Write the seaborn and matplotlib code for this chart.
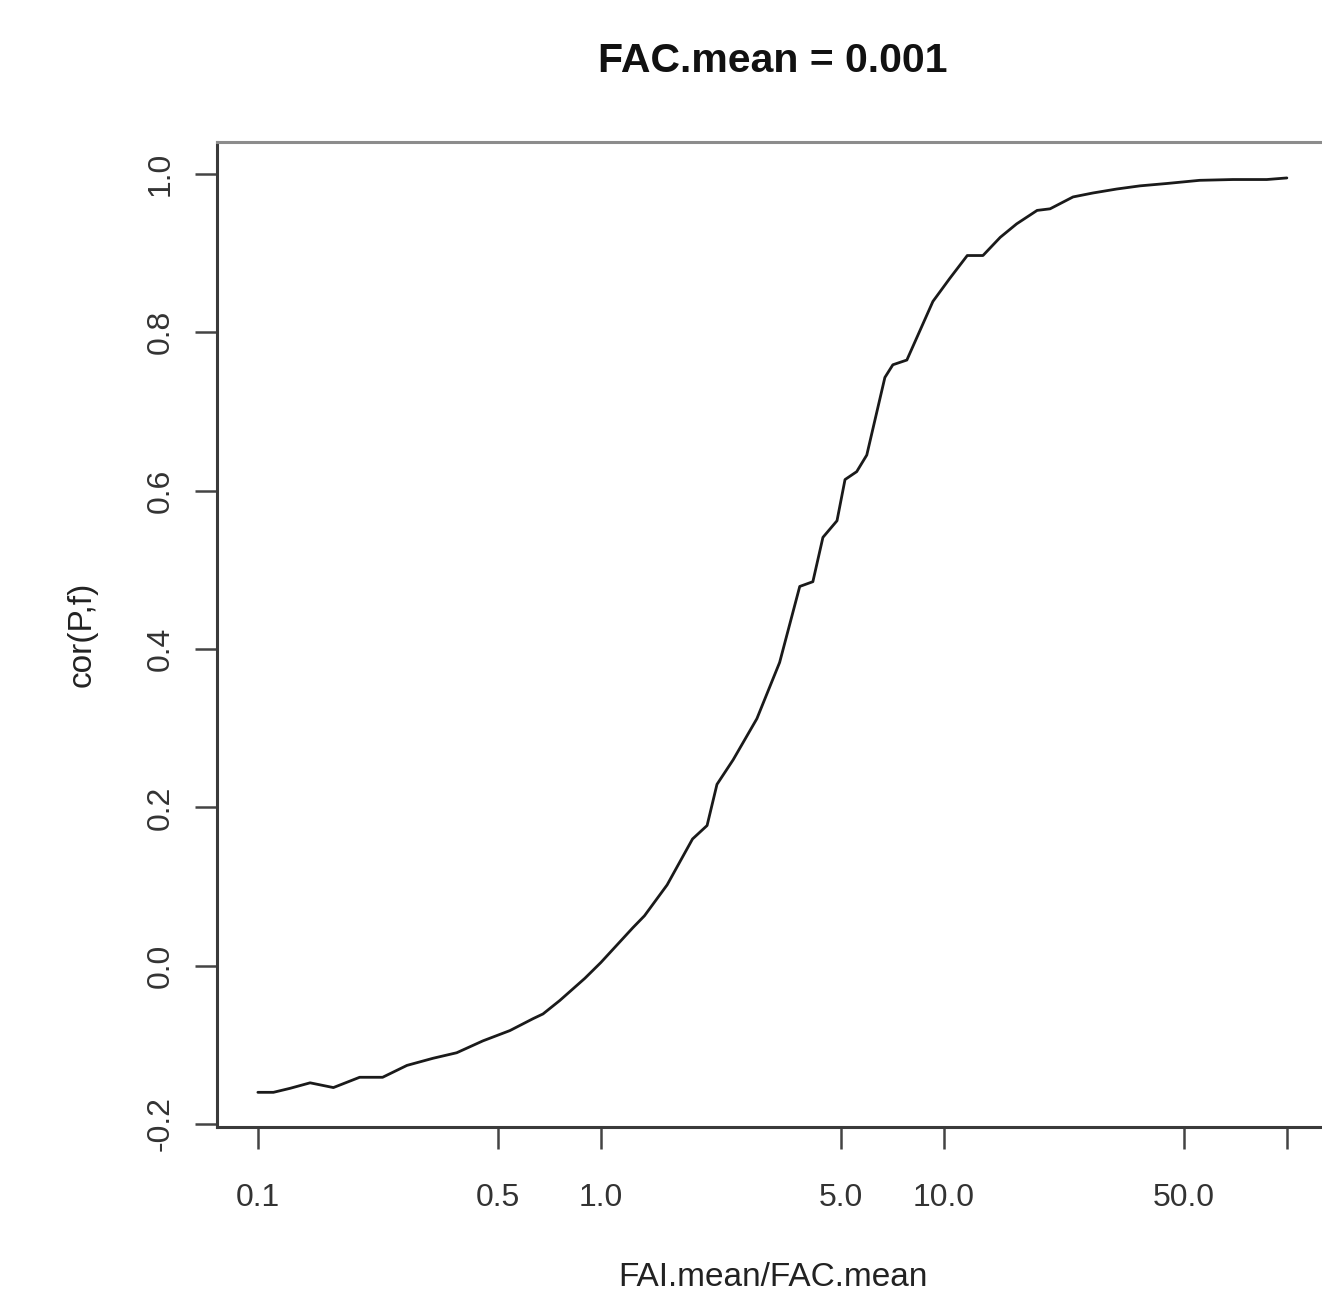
import numpy as np
import pandas as pd
import matplotlib
matplotlib.use("Agg")
import matplotlib.pyplot as plt
import seaborn as sns

# FAI.mean / FAC.mean ratio and the resulting correlation cor(P, f)
ratio = [0.1, 0.111, 0.124, 0.142, 0.166, 0.198, 0.231, 0.272, 0.324, 0.380,
         0.453, 0.543, 0.634, 0.678, 0.759, 0.898, 1.0, 1.24, 1.34, 1.56,
         1.85, 2.04, 2.18, 2.43, 2.85, 3.32, 3.80, 4.15, 4.44, 4.88,
         5.15, 5.57, 5.96, 6.73, 7.10, 7.80, 9.29, 10.4, 11.7, 13.0,
         14.6, 16.3, 18.7, 20.4, 23.8, 27.2, 31.9, 37.3, 44.7, 55.7,
         69.6, 87.4, 100.0]
corr = [-0.160, -0.160, -0.155, -0.148, -0.154, -0.141, -0.141, -0.126, -0.117, -0.110,
        -0.095, -0.082, -0.067, -0.061, -0.044, -0.016, 0.004, 0.048, 0.063, 0.102,
        0.160, 0.177, 0.229, 0.260, 0.312, 0.383, 0.479, 0.485, 0.541, 0.562,
        0.614, 0.624, 0.645, 0.743, 0.759, 0.765, 0.839, 0.868, 0.897, 0.897,
        0.920, 0.937, 0.954, 0.956, 0.971, 0.976, 0.981, 0.985, 0.988, 0.992,
        0.993, 0.993, 0.995]

x_ticks = [0.1, 0.5, 1.0, 5.0, 10.0, 50.0, 100.0]
x_tick_labels = ["0.1", "0.5", "1.0", "5.0", "10.0", "50.0", ""]
y_ticks = [-0.2, 0.0, 0.2, 0.4, 0.6, 0.8, 1.0]
y_tick_labels = ["-0.2", "0.0", "0.2", "0.4", "0.6", "0.8", "1.0"]

title = "FAC.mean = 0.001"
x_label = "FAI.mean/FAC.mean"
y_label = "cor(P,f)"

df = pd.DataFrame({"ratio": ratio, "corr": corr})

sns.set_theme(style="white")
plt.rcParams["font.family"] = ["Liberation Sans", "DejaVu Sans"]

W, H = 1322, 1293
fig = plt.figure(figsize=(W / 100, H / 100), dpi=100)
ax = fig.add_axes([217 / W, 1 - 1127 / H, 1111 / W, (1127 - 142) / H])

sns.lineplot(data=df, x="ratio", y="corr", ax=ax, color="#1a1a1a",
             linewidth=2.0, estimator=None, sort=False)

ax.set_xscale("log")
ax.set_xlim(0.0760, 131.8)
ax.set_ylim(-0.2038, 1.0404)

ax.set_xticks(x_ticks)
ax.set_xticklabels(x_tick_labels)
ax.xaxis.set_minor_locator(matplotlib.ticker.NullLocator())
ax.set_yticks(y_ticks)
ax.set_yticklabels(y_tick_labels, rotation=90, va="center")

ax.tick_params(axis="both", which="major", length=16, width=1.8,
               color="#444444", labelsize=23, labelcolor="#333333")
ax.tick_params(axis="x", pad=24, bottom=True)
ax.tick_params(axis="y", pad=14, left=True)

for side in ["left", "bottom", "top"]:
    ax.spines[side].set_visible(True)
    ax.spines[side].set_linewidth(2.2)
ax.spines["left"].set_color("#3a3a3a")
ax.spines["bottom"].set_color("#3a3a3a")
ax.spines["top"].set_color("#8c8c8c")
ax.spines["right"].set_visible(False)

ax.set_xlabel(x_label, fontsize=24, color="#222222", labelpad=35.5)
ax.set_ylabel(y_label, fontsize=24, color="#222222", labelpad=34)

fig.text((217 + 1328) / 2 / W, 1 - 61 / H, title, ha="center", va="center",
         fontsize=29.5, fontweight="bold", color="#111111")

fig.savefig("out.png", dpi=100, facecolor="white")
